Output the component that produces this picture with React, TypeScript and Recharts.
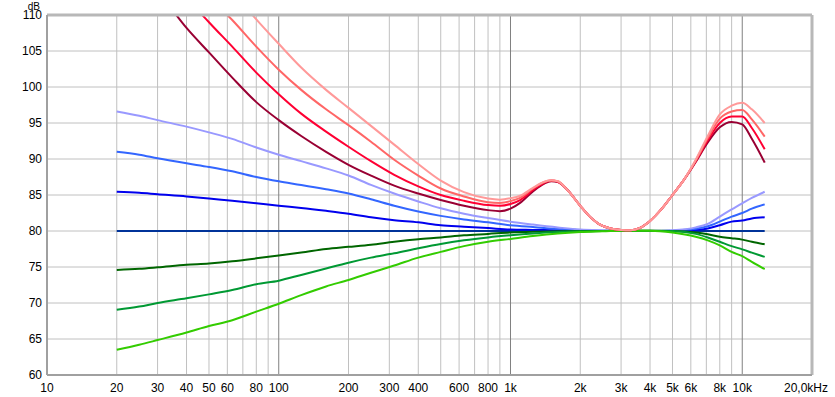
import React from 'react';
import { LineChart, Line, XAxis, YAxis, ReferenceLine, Label } from 'recharts';

// Frequencies (Hz) for the blue / green families
const FREQ = [20, 25, 30, 40, 50, 63, 80, 100, 125, 160, 200, 250, 315, 400, 500, 630, 800, 1000, 1250, 1600, 2000, 2500, 3150, 4000, 5000, 6300, 7100, 8000, 9000, 10000, 11000, 12500];

const LIGHT_BLUE = [96.6, 96.0, 95.4, 94.5, 93.7, 92.8, 91.6, 90.6, 89.7, 88.7, 87.7, 86.4, 85.2, 84.1, 83.15, 82.4, 81.8, 81.3, 80.9, 80.5, 80.2, 80.1, 80.05, 80.0, 80.1, 80.5, 81.0, 82.0, 83.0, 83.85, 84.6, 85.45];
const MID_BLUE = [91.0, 90.6, 90.1, 89.4, 88.9, 88.3, 87.5, 86.9, 86.4, 85.8, 85.2, 84.4, 83.5, 82.7, 82.1, 81.6, 81.2, 80.8, 80.55, 80.3, 80.15, 80.05, 80.0, 80.0, 80.05, 80.3, 80.65, 81.3, 82.0, 82.5, 83.1, 83.7];
const BLUE = [85.45, 85.3, 85.1, 84.8, 84.5, 84.2, 83.85, 83.5, 83.2, 82.8, 82.4, 81.9, 81.5, 81.2, 80.8, 80.6, 80.4, 80.2, 80.15, 80.1, 80.05, 80.0, 80.0, 80.0, 80.0, 80.15, 80.35, 80.8, 81.3, 81.45, 81.75, 81.9];
const FLAT = [80, 80, 80, 80, 80, 80, 80, 80, 80, 80, 80, 80, 80, 80, 80, 80, 80, 80, 80, 80, 80, 80, 80, 80, 80, 80, 80, 80, 80, 80, 80, 80];
const DARK_GREEN = [74.6, 74.75, 74.95, 75.3, 75.5, 75.8, 76.2, 76.6, 77.0, 77.5, 77.8, 78.1, 78.5, 78.85, 79.1, 79.4, 79.6, 79.8, 79.9, 79.95, 80.0, 80.0, 80.05, 80.05, 80.0, 79.8, 79.55, 79.2, 79.0, 78.8, 78.5, 78.15];
const MID_GREEN = [69.05, 69.5, 70.0, 70.65, 71.2, 71.8, 72.6, 73.1, 73.9, 74.8, 75.6, 76.3, 76.9, 77.6, 78.2, 78.7, 79.1, 79.4, 79.65, 79.85, 79.95, 80.0, 80.05, 80.05, 80.0, 79.6, 79.1, 78.5, 77.9, 77.45, 77.0, 76.4];
const LIGHT_GREEN = [63.5, 64.2, 64.85, 65.9, 66.8, 67.6, 68.8, 69.9, 71.1, 72.3, 73.2, 74.2, 75.2, 76.3, 77.1, 77.9, 78.5, 78.9, 79.3, 79.65, 79.85, 79.95, 80.05, 80.05, 79.8, 79.2, 78.7, 78.0, 77.1, 76.5, 75.7, 74.7];

// Frequencies (Hz) for the red family
const FREQ_RED = [20, 25, 30, 40, 50, 63, 80, 100, 125, 160, 200, 250, 315, 400, 500, 630, 800, 900, 1000, 1100, 1250, 1400, 1500, 1600, 1750, 2000, 2200, 2400, 2700, 3000, 3300, 3600, 4000, 4500, 5000, 5600, 6300, 7100, 8000, 9000, 10000, 11000, 12500];

const MAROON = [121, 117, 113.5, 108.2, 104.8, 101.3, 97.9, 95.4, 93.2, 91.0, 89.2, 87.7, 86.3, 85.2, 84.3, 83.5, 82.9, 82.75, 83.1, 83.9, 85.5, 86.6, 86.9, 86.8, 85.8, 83.5, 82.0, 81.0, 80.35, 80.15, 80.1, 80.4, 81.4, 83.1, 85.0, 87.1, 89.6, 92.3, 94.4, 95.15, 94.8, 92.8, 89.5];
const RED = [126, 122, 118.5, 112.5, 109.0, 105.6, 102.0, 99.0, 96.3, 93.8, 91.7, 89.7, 87.8, 86.2, 85.0, 84.2, 83.6, 83.5, 83.75, 84.3, 85.7, 86.7, 87.0, 86.85, 85.8, 83.5, 82.0, 81.0, 80.35, 80.15, 80.1, 80.4, 81.4, 83.1, 85.0, 87.1, 89.7, 92.6, 95.0, 95.9, 95.9, 94.3, 91.35];
const SALMON = [131, 127, 123, 117, 112.6, 109.3, 105.6, 102.4, 99.6, 96.9, 94.7, 92.4, 89.9, 87.7, 85.9, 84.8, 84.0, 83.9, 84.15, 84.6, 85.9, 86.8, 87.0, 86.9, 85.8, 83.5, 82.0, 81.0, 80.35, 80.15, 80.1, 80.4, 81.4, 83.1, 85.0, 87.1, 89.8, 92.9, 95.6, 96.6, 96.8, 95.5, 93.1];
const PINK = [136, 132, 128, 122, 117.5, 113.3, 109.4, 106.0, 102.7, 99.6, 97.1, 94.6, 92.0, 89.3, 87.0, 85.4, 84.5, 84.35, 84.55, 84.9, 86.0, 86.85, 87.05, 86.9, 85.8, 83.5, 82.0, 81.0, 80.35, 80.15, 80.1, 80.4, 81.4, 83.1, 85.0, 87.1, 89.9, 93.2, 96.2, 97.4, 97.8, 96.9, 95.0];

// Axis ticks
const X_TICKS = [10, 20, 30, 40, 50, 60, 80, 100, 200, 300, 400, 600, 800, 1000, 2000, 3000, 4000, 5000, 6000, 8000, 10000, 20000];
const Y_TICKS = [60, 65, 70, 75, 80, 85, 90, 95, 100, 105, 110];
const MINOR_GRID_X = [20, 30, 40, 50, 60, 70, 80, 90, 200, 300, 400, 500, 600, 700, 800, 900, 2000, 3000, 4000, 5000, 6000, 7000, 8000, 9000];
const MAJOR_GRID_X = [100, 1000, 10000];
const GRID_Y = [65, 70, 75, 80, 85, 90, 95, 100, 105];

const toPts = (fs: number[], vs: number[]) => fs.map((f, i) => ({ f, v: vs[i] }));

const fmtX = (v: number) => {
  if (v === 20000) return '20,0kHz';
  if (v >= 1000) return `${v / 1000}k`;
  return String(v);
};

const FONT = '"Liberation Sans", Arial, sans-serif';

const XTick = (props: any) => {
  const { x, y, payload } = props;
  const v = payload.value;
  const last = v === 20000;
  return (
    <text x={last ? x + 16 : x} y={y} dy="0.71em" textAnchor={last ? 'end' : 'middle'} fontSize={12} fontFamily={FONT} fill="#000">
      {fmtX(v)}
    </text>
  );
};

const series: { data: number[]; freqs: number[]; color: string }[] = [
  { data: FLAT, freqs: FREQ, color: '#003399' },
  { data: BLUE, freqs: FREQ, color: '#0000ee' },
  { data: MID_BLUE, freqs: FREQ, color: '#3366ff' },
  { data: LIGHT_BLUE, freqs: FREQ, color: '#9999ff' },
  { data: DARK_GREEN, freqs: FREQ, color: '#006600' },
  { data: MID_GREEN, freqs: FREQ, color: '#009933' },
  { data: LIGHT_GREEN, freqs: FREQ, color: '#33cc00' },
  { data: MAROON, freqs: FREQ_RED, color: '#990033' },
  { data: RED, freqs: FREQ_RED, color: '#ff0033' },
  { data: SALMON, freqs: FREQ_RED, color: '#ff6666' },
  { data: PINK, freqs: FREQ_RED, color: '#ff9999' },
];

export default function App() {
  return (
    <div style={{ position: 'absolute', left: 0, top: 0, width: 835, height: 397, background: '#fff' }}>
      <LineChart width={835} height={397} margin={{ top: 15, right: 23, bottom: 0, left: 0 }}>
        <XAxis
          dataKey="f"
          type="number"
          scale="log"
          domain={[10, 20000]}
          ticks={X_TICKS}
          allowDataOverflow
          interval={0}
          height={22}
          tick={<XTick />}
          tickLine={false}
          axisLine={false}
        />
        <YAxis
          type="number"
          domain={[60, 110]}
          ticks={Y_TICKS}
          allowDataOverflow
          interval={0}
          width={47}
          tickLine={false}
          axisLine={false}
          tickSize={3}
          tickMargin={2}
          tick={{ fontSize: 12, fontFamily: FONT, fill: '#000' }}
        >
          <Label
            content={() => (
              <text x={40} y={10} textAnchor="end" fontSize={10} fontFamily={FONT} fill="#000">
                dB
              </text>
            )}
          />
        </YAxis>
        {GRID_Y.map((y) => (
          <ReferenceLine key={`gy${y}`} y={y} stroke="#c0c0c0" strokeWidth={1} />
        ))}
        {MINOR_GRID_X.map((x) => (
          <ReferenceLine key={`gx${x}`} x={x} stroke="#c0c0c0" strokeWidth={1} />
        ))}
        {MAJOR_GRID_X.map((x) => (
          <ReferenceLine key={`mx${x}`} x={x} stroke="#808080" strokeWidth={1} />
        ))}
        {series.map((s, i) => (
          <Line
            key={i}
            data={toPts(s.freqs, s.data)}
            dataKey="v"
            type="monotone"
            stroke={s.color}
            strokeWidth={2}
            dot={false}
            activeDot={false}
            isAnimationActive={false}
          />
        ))}
        <ReferenceLine y={110} stroke="#b8b8b8" strokeWidth={3} />
        <ReferenceLine x={20000} stroke="#b8b8b8" strokeWidth={3} />
        <ReferenceLine x={10} stroke="#a0a0a0" strokeWidth={2} />
        <ReferenceLine y={60} stroke="#a0a0a0" strokeWidth={2} />
      </LineChart>
    </div>
  );
}
